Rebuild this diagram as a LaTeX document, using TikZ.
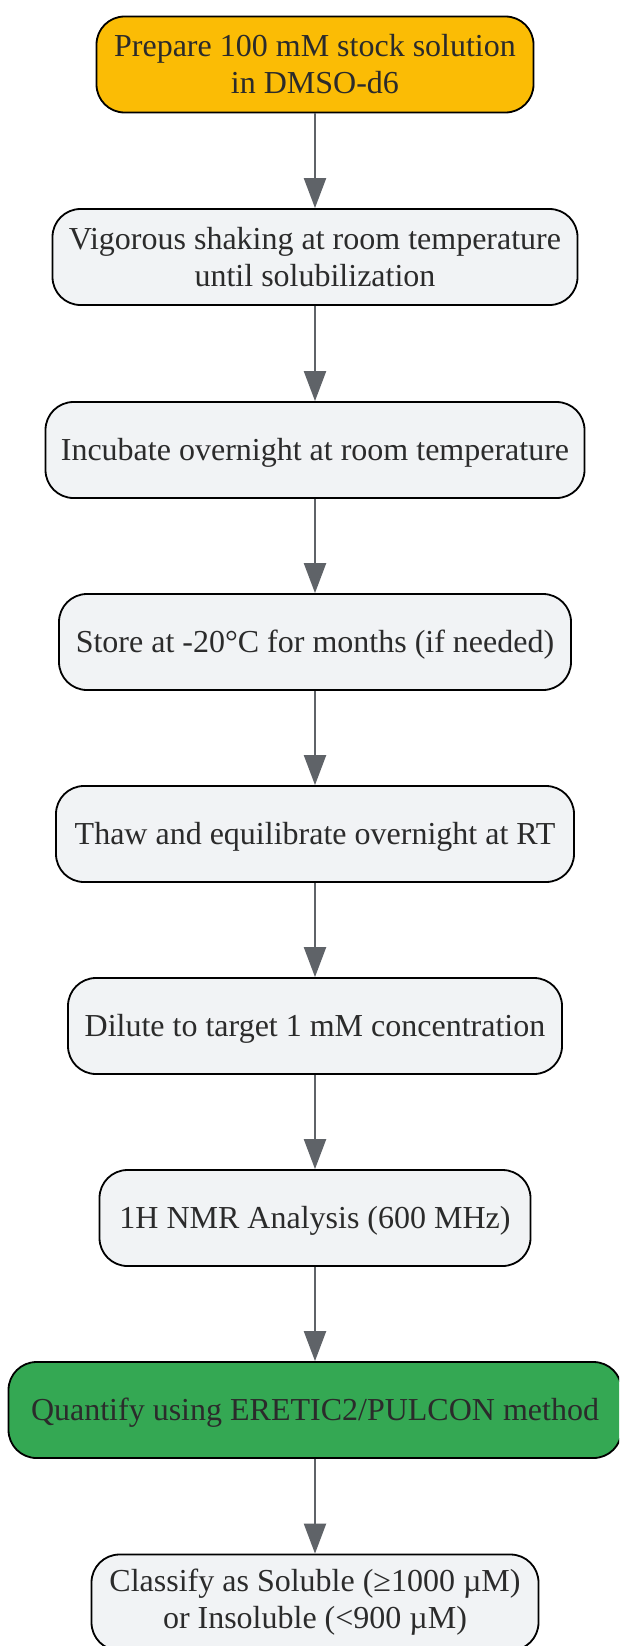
\documentclass[tikz,border=0pt]{standalone}
\usepackage{fontspec}
\setmainfont{Liberation Serif}
\usetikzlibrary{arrows.meta}
\definecolor{txt}{HTML}{2B2B2B}
\definecolor{boxfill}{HTML}{F1F3F5}
\definecolor{yel}{HTML}{FBBC05}
\definecolor{grn}{HTML}{34A853}
\definecolor{arr}{HTML}{5F6368}
\begin{document}
\begin{tikzpicture}[x=1pt,y=-1pt,
  stepbox/.style={draw=black, line width=1.8pt, rounded corners=28pt, fill=boxfill,
    minimum height=96pt, align=center, inner sep=0pt, text=txt,
    font=\fontsize{32}{37}\selectfont},
  oneline/.style={text height=28.2pt, text depth=6.8pt},
  flow/.style={draw=arr, line width=2.2pt, -{Triangle[length=30pt,width=22pt]}}]
\clip (0,0) rectangle (619,1646);
\fill[white] (0,0) rectangle (619,1646);
\node[stepbox, fill=yel, minimum width=437pt] (n1) at (315,64.5) {Prepare 100 mM stock solution\\in DMSO-d6};
\node[stepbox, minimum width=525pt] (n2) at (315,257) {Vigorous shaking at room temperature\\until solubilization};
\node[stepbox, oneline, minimum width=539pt] (n3) at (315,450) {Incubate overnight at room temperature};
\node[stepbox, oneline, minimum width=512pt] (n4) at (315,642) {Store at -20°C for months (if needed)};
\node[stepbox, oneline, minimum width=518pt] (n5) at (315,834) {Thaw and equilibrate overnight at RT};
\node[stepbox, oneline, minimum width=494pt] (n6) at (315,1026) {Dilute to target 1 mM concentration};
\node[stepbox, oneline, minimum width=431pt] (n7) at (315,1218) {1H NMR Analysis (600 MHz)};
\node[stepbox, oneline, fill=grn, minimum width=613pt] (n8) at (315,1410) {Quantify using ERETIC2/PULCON method};
\node[stepbox, minimum width=447pt] (n9) at (315,1602.5) {Classify as Soluble (≥1000 µM)\\or Insoluble (<900 µM)};
\foreach \a/\b in {n1/n2,n2/n3,n3/n4,n4/n5,n5/n6,n6/n7,n7/n8,n8/n9}
  \draw[flow] (\a.south) -- (\b.north);
\end{tikzpicture}
\end{document}
